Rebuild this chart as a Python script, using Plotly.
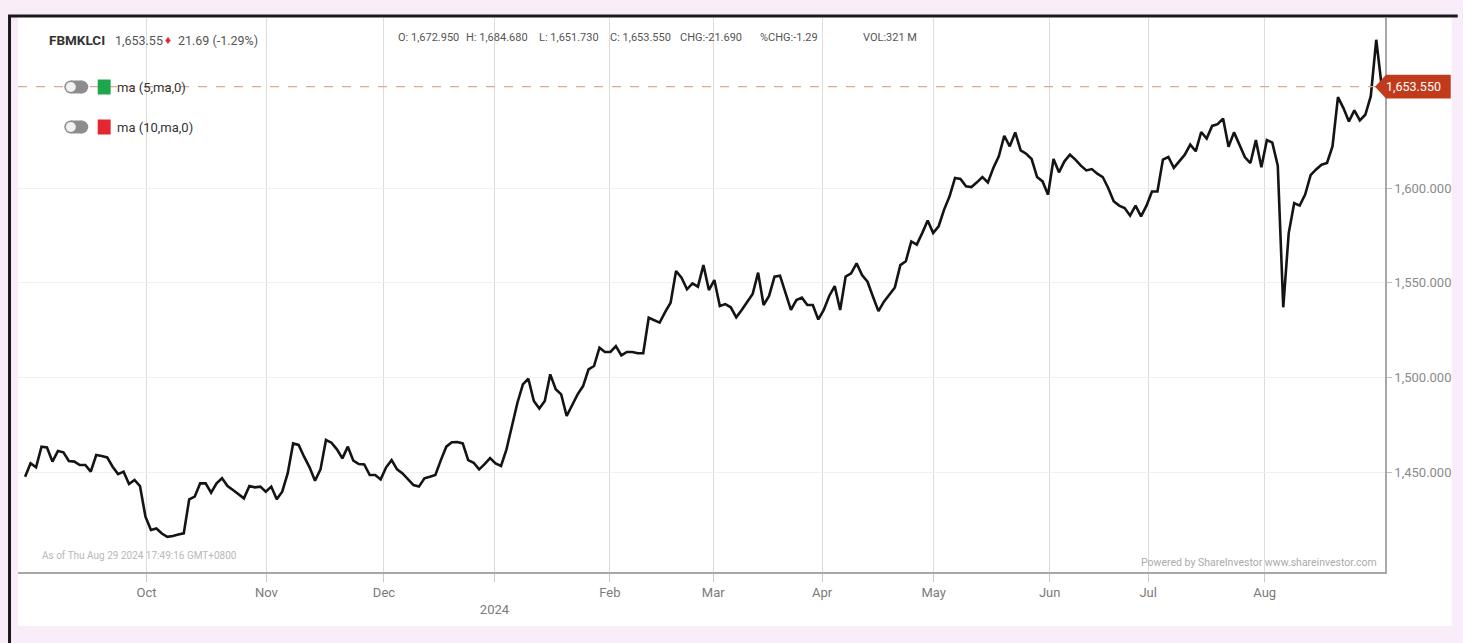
import plotly.graph_objects as go

# ---------------- data ----------------
close_aug_oct = [
    1447.5, 1454.6, 1452.5, 1463.4, 1463.0, 1455.5, 1461.1, 1460.4, 1455.8, 1455.5,
    1453.7, 1453.7, 1450.2, 1459.0, 1458.5, 1457.7, 1452.8, 1448.9, 1450.2, 1443.7,
    1445.8, 1442.6, 1426.4, 1419.4, 1420.2, 1417.5, 1415.8, 1416.2, 1417.0, 1417.6,
    1435.6, 1437.0, 1444.0, 1444.0, 1439.1, 1444.0, 1446.7, 1442.6, 1440.5, 1438.5,
    1436.1, 1442.6, 1441.9, 1442.3, 1439.6, 1442.3, 1435.6, 1439.6, 1449.3, 1465.1,
    1464.3, 1458.1, 1452.5, 1445.4, 1451.4, 1466.9, 1465.5, 1462.0, 1457.2, 1463.4,
    1456.0, 1454.2, 1454.0, 1448.4, 1448.4, 1446.1, 1452.5, 1456.3, 1451.4, 1449.3,
    1446.3, 1443.1, 1442.3, 1446.7, 1447.5, 1448.4, 1456.3, 1463.4, 1465.7, 1465.8,
    1465.1, 1456.3, 1454.9, 1451.4, 1454.2, 1457.4, 1454.6, 1453.2,
]
close_jan_feb = [
    1462.0, 1474.3, 1486.6, 1496.3, 1499.3, 1487.5, 1483.5, 1487.5, 1501.6, 1493.7,
    1491.0, 1479.6, 1485.7, 1491.0, 1495.4, 1504.2, 1506.0, 1515.7, 1513.4, 1513.4,
    1516.5, 1511.6, 1513.4, 1513.4, 1512.7, 1512.7, 1531.5, 1530.3, 1528.9, 1534.5,
    1539.4, 1556.2, 1552.6, 1546.5, 1549.6, 1547.9,
]
close_mar_apr = [
    1559.3, 1546.1, 1551.4, 1537.7, 1538.7, 1537.0, 1531.7, 1535.6, 1540.0, 1544.0,
    1555.3, 1538.2, 1543.0, 1553.2, 1553.7, 1545.2, 1535.6, 1540.8, 1542.1, 1538.2,
    1538.2, 1530.6, 1535.6, 1543.0, 1548.2, 1535.6, 1553.2, 1554.9, 1560.2, 1554.0,
    1550.5, 1542.6, 1535.0, 1540.0, 1544.0, 1547.5, 1559.3,
]
close_may_jul = [
    1561.3, 1571.8, 1570.1, 1576.2, 1582.9, 1576.2, 1579.8, 1588.6, 1595.6, 1605.3,
    1604.8, 1600.9, 1600.5, 1603.0, 1605.8, 1603.0, 1610.6, 1616.7, 1627.6, 1622.0,
    1629.4, 1619.9, 1618.1, 1615.3, 1605.8, 1603.5, 1596.5, 1615.3, 1608.3, 1614.1,
    1617.6, 1615.0, 1611.8, 1609.3, 1610.0, 1607.6, 1605.8, 1600.0, 1593.0, 1590.7,
    1589.4, 1585.4, 1590.7, 1585.0, 1590.7, 1598.2, 1598.2, 1615.0, 1616.4, 1610.6,
    1614.1, 1617.6, 1622.9, 1619.4,
]
close_jul_aug = [
    1629.6, 1626.1, 1632.8, 1633.7, 1636.7, 1621.8, 1629.4, 1622.5, 1616.2, 1613.2,
    1625.3, 1611.0, 1625.3, 1624.0, 1611.8, 1537.0, 1576.2, 1592.0, 1590.7, 1596.5,
    1606.8, 1609.8, 1612.3, 1613.2, 1622.0, 1648.0, 1642.2, 1635.2, 1641.0, 1635.7,
    1638.7, 1648.5, 1678.3, 1653.55,
]
closes = close_aug_oct + close_jan_feb + close_mar_apr + close_may_jul + close_jul_aug
sessions = list(range(len(closes)))

month_tick_sessions = [22.2, 44.1, 65.6, 85.8, 106.9, 125.8, 145.7, 166.1, 187.3, 205.3, 226.6]
month_tick_labels = ["Oct", "Nov", "Dec", "<br>2024", "Feb", "Mar", "Apr", "May", "Jun", "Jul", "Aug"]
price_ticks = [1450, 1500, 1550, 1600]

last_close = 1653.55
header_name = "FBMKLCI"
header_last = "1,653.55"
header_change = "21.69 (-1.29%)"
ohlc_items = ["O: 1,672.950", "H: 1,684.680", "L: 1,651.730", "C: 1,653.550",
              "CHG:-21.690", "%CHG:-1.29", "VOL:321 M"]
ma_labels = ["ma (5,ma,0)", "ma (10,ma,0)"]
ma_colors = ["#1ea64f", "#e5252f"]

# ---------------- layout geometry ----------------
W, H = 1463, 643
L, R, T, B = 18, 73, 18, 71
PW, PH = W - L - R, H - T - B
FONT = "Roboto, Liberation Sans, sans-serif"
BG = "#f8edf9"


def fx(xp):
    return (xp - L) / PW


def fy(yp):
    return (H - B - yp) / PH


fig = go.Figure()
fig.add_trace(go.Scatter(x=sessions, y=closes, mode="lines",
                         line=dict(color="#141414", width=2.6),
                         hoverinfo="skip", showlegend=False))

shapes = []
# white chart card
shapes.append(dict(type="rect", xref="paper", yref="paper", x0=fx(18), x1=fx(1457),
                   y0=fy(626), y1=fy(17), fillcolor="white", line=dict(width=0), layer="below"))
# black frame lines
shapes.append(dict(type="line", xref="paper", yref="paper", x0=fx(8), x1=fx(1463),
                   y0=fy(16), y1=fy(16), line=dict(color="#1a1a1a", width=3)))
shapes.append(dict(type="line", xref="paper", yref="paper", x0=fx(9.5), x1=fx(9.5),
                   y0=fy(16), y1=fy(643), line=dict(color="#1a1a1a", width=3)))
# last price dashed line
shapes.append(dict(type="line", xref="paper", yref="y", x0=0, x1=1, y0=last_close, y1=last_close,
                   line=dict(color="#e3a595", width=1.2, dash="dash")))
# price tag
d = 6.3
a, b, c = fx(1380), fx(1391), fx(1456)
shapes.append(dict(type="path", xref="paper", yref="y",
                   path=f"M {a},{last_close} L {b},{last_close + d} L {c},{last_close + d} "
                        f"L {c},{last_close - d} L {b},{last_close - d} Z",
                   fillcolor="#c23a1c", line=dict(width=0)))


# toggles and colour squares of the indicator list
def circle(xc, yc, r, color):
    return dict(type="circle", xref="paper", yref="paper", xsizemode="pixel", ysizemode="pixel",
                xanchor=fx(xc), yanchor=fy(yc), x0=-r, x1=r, y0=-r, y1=r,
                fillcolor=color, line=dict(width=0))


for k, yc in enumerate([87, 127]):
    shapes.append(circle(71, yc, 6.5, "#8d8d8d"))
    shapes.append(circle(82, yc, 6.5, "#8d8d8d"))
    shapes.append(dict(type="rect", xref="paper", yref="paper", x0=fx(71), x1=fx(82),
                       y0=fy(yc + 6.5), y1=fy(yc - 6.5), fillcolor="#8d8d8d", line=dict(width=0)))
    shapes.append(circle(71, yc, 5, "#f2f2f2"))
    shapes.append(dict(type="rect", xref="paper", yref="paper", x0=fx(98), x1=fx(111),
                       y0=fy(yc + 7.5), y1=fy(yc - 7.5), fillcolor=ma_colors[k], line=dict(width=0)))

ann = []


def text(xp, yp, s, size=12, color="#444", anchor="left", bold=False):
    ann.append(dict(xref="paper", yref="paper", x=fx(xp), y=fy(yp), text=f"<b>{s}</b>" if bold else s,
                    showarrow=False, xanchor=anchor, yanchor="middle",
                    font=dict(family=FONT, size=size, color=color)))


text(47, 40, header_name, size=13.5, color="#333", bold=True)
text(113, 40, header_last, size=12.5, color="#555")
text(164, 40, "♦", size=12, color="#e3262f")
text(177, 40, header_change, size=12.5, color="#555")
for xp, s in zip([397, 466, 539, 610, 680, 761, 864], ohlc_items):
    text(xp, 38, s, size=11, color="#555")
for k, yc in enumerate([87, 127]):
    text(115, yc, ma_labels[k], size=13, color="#333")
text(40, 555, "As of Thu Aug 29 2024 17:49:16 GMT+0800", size=10, color="#b8b8b8")
text(1384, 562, "Powered by ShareInvestor www.shareinvestor.com", size=10.5, color="#ababab", anchor="right")
ann.append(dict(xref="paper", yref="y", x=fx(1419), y=last_close, text="1,653.550", showarrow=False,
                xanchor="center", yanchor="middle", font=dict(family=FONT, size=12.5, color="white")))

fig.update_layout(
    width=W, height=H,
    margin=dict(l=L, r=R, t=T, b=B, pad=0),
    paper_bgcolor=BG,
    plot_bgcolor="white",
    showlegend=False,
    shapes=shapes,
    annotations=ann,
    font=dict(family=FONT, color="#888"),
    xaxis=dict(range=[-1.3, 248.6], tickmode="array", tickvals=month_tick_sessions,
               ticktext=month_tick_labels, showgrid=True, gridcolor="#dcdcdc", gridwidth=1,
               zeroline=False, showline=True, linecolor="#a8a8a8", linewidth=1.5,
               ticks="outside", ticklen=8, tickcolor="#c8c8c8",
               tickfont=dict(family=FONT, size=13, color="#7a7a7a")),
    yaxis=dict(range=[1397.2, 1689.8], side="right", tickmode="array", tickvals=price_ticks,
               tickformat=",.3f", showgrid=True, gridcolor="#f0f0f0", gridwidth=1.2,
               zeroline=False, showline=True, linecolor="#a8a8a8", linewidth=1.5,
               ticks="outside", ticklen=5, tickcolor="#c0c0c0",
               tickfont=dict(family=FONT, size=13, color="#8a8a8a")),
)

fig.write_html(
    "out.html",
    config={"displayModeBar": False},
    post_script=f"document.body.style.margin='0';document.body.style.overflow='hidden';"
                f"document.body.style.backgroundColor='{BG}';",
)
